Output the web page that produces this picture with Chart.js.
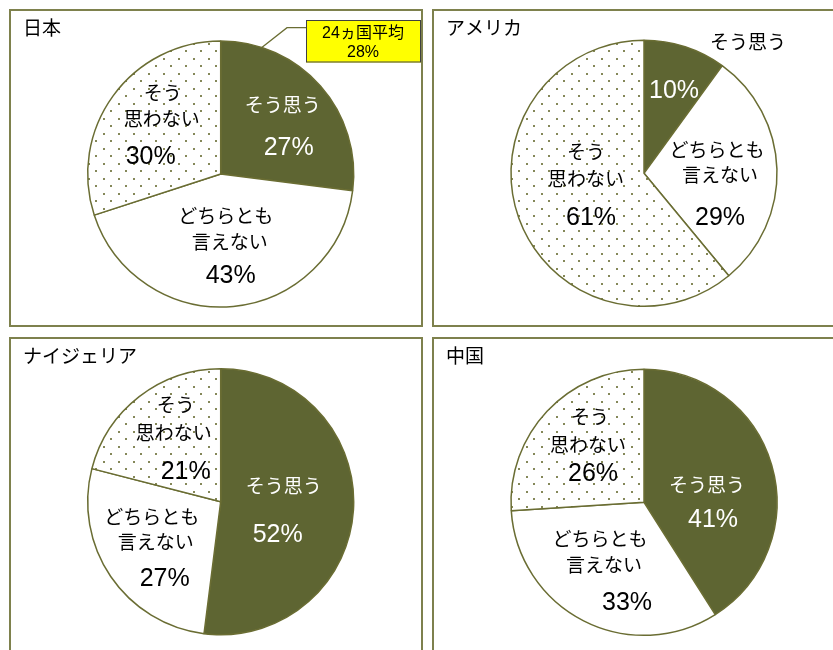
<!DOCTYPE html>
<html lang="ja">
<head>
<meta charset="utf-8">
<script src="https://cdn.jsdelivr.net/npm/chart.js@4.4.1/dist/chart.umd.min.js"></script>
<style>
  html, body { margin: 0; padding: 0; background: #fff; overflow: hidden; width: 833px; height: 650px; }
  .panel { position: absolute; border: 2px solid #7e814d; background: #fff; }
  .panel canvas { position: absolute; left: 0; top: 0; }
</style>
</head>
<body>
<div class="panel" style="left:9px;top:9px;width:410px;height:314px"><canvas id="c0" width="410" height="314"></canvas></div>
<div class="panel" style="left:432px;top:9px;width:420px;height:314px"><canvas id="c1" width="420" height="314"></canvas></div>
<div class="panel" style="left:9px;top:337px;width:410px;height:320px"><canvas id="c2" width="410" height="320"></canvas></div>
<div class="panel" style="left:432px;top:337px;width:420px;height:320px"><canvas id="c3" width="420" height="320"></canvas></div>
<script>
const categories = ['そう思う', 'どちらとも言えない', 'そう思わない'];
const categoryLines = [['そう思う'], ['どちらとも', '言えない'], ['そう', '思わない']];
const countries = ['日本', 'アメリカ', 'ナイジェリア', '中国'];
const japanValues = [27, 43, 30];
const usaValues = [10, 29, 61];
const nigeriaValues = [52, 27, 21];
const chinaValues = [41, 33, 26];
const averageLabel = '24ヵ国平均';
const averageValue = 28;

const seriesByCountry = [japanValues, usaValues, nigeriaValues, chinaValues];

// pie centre inside each canvas, radius in px
const pieCentres = [[209.7, 163], [210, 162.3], [209.7, 162.7], [210, 163.3]];
const R = 133;
const BW = 1.5;

// label spots from the pie centre (px at R): name lines..., then percent
const labelSpots = [
  [[[62, -67], [68, -26]], [[5, 44], [9, 70], [10, 102]], [[-58, -79], [-59, -53], [-70, -17]]],
  [[[104, -130], [30, -82]], [[73, -22], [76, 3], [76, 45]], [[-58, -20], [-58, 7], [-53, 45]]],
  [[[63, -14], [57, 33]], [[-69, 17], [-65, 42], [-56, 77]], [[-45, -95], [-47, -67], [-35, -30]]],
  [[[63, -16], [69, 18]], [[-44, 38], [-40, 64], [-17, 101]], [[-54, -84], [-56, -56], [-51, -28]]],
];

const OLIVE = '#5e6532';
const EDGE = '#6a6d33';
const JP = '"Liberation Sans", "Noto Sans CJK JP", sans-serif';

function dotPattern() {
  const c = document.createElement('canvas');
  c.width = 15; c.height = 15;
  const g = c.getContext('2d');
  g.fillStyle = '#fff';
  g.fillRect(0, 0, 15, 15);
  g.fillStyle = '#858859';
  g.fillRect(2, 2, 2, 2);
  g.fillRect(9, 9, 2, 2);
  return g.createPattern(c, 'repeat');
}

const pieText = {
  id: 'pieText',
  afterDatasetsDraw(chart, args, opts) {
    const ctx = chart.ctx;
    const arcs = chart.getDatasetMeta(0).data;
    const { x: cx, y: cy, outerRadius } = arcs[0];
    const k = outerRadius / R;
    const values = chart.data.datasets[0].data;
    ctx.save();
    ctx.textAlign = 'center';
    ctx.textBaseline = 'middle';
    labelSpots[opts.index].forEach((spots, i) => {
      spots.forEach((p, j) => {
        const x = cx + p[0] * k, y = cy + p[1] * k;
        const isPct = j === spots.length - 1;
        ctx.fillStyle = arcs[0].inRange(x, y) ? '#fff' : '#000';
        ctx.font = isPct ? '25px ' + JP : '19px ' + JP;
        ctx.fillText(isPct ? values[i] + '%' : categoryLines[i][j], x, y);
      });
    });
    // panel title
    ctx.textAlign = 'left';
    ctx.fillStyle = '#000';
    ctx.font = '19px ' + JP;
    ctx.fillText(countries[opts.index], 12, 19);

    if (opts.callout) {
      const a = 0.05 * Math.PI * 2;
      const px = cx + outerRadius * Math.sin(a), py = cy - outerRadius * Math.cos(a);
      const bx = 295, by = 9, bw = 115, bh = 42.5;
      ctx.strokeStyle = EDGE;
      ctx.lineWidth = 1.3;
      ctx.beginPath();
      ctx.moveTo(bx, by + 7.7);
      ctx.lineTo(bx - 19, by + 7.7);
      ctx.lineTo(px, py);
      ctx.stroke();
      ctx.fillStyle = '#ffff00';
      ctx.fillRect(bx, by, bw, bh);
      ctx.strokeStyle = '#404040';
      ctx.lineWidth = 1;
      ctx.strokeRect(bx + 0.5, by + 0.5, bw - 1, bh - 1);
      ctx.fillStyle = '#000';
      ctx.textAlign = 'center';
      ctx.font = '16px ' + JP;
      ctx.fillText(averageLabel, bx + 57, by + 13.5);
      ctx.fillText(averageValue + '%', bx + 57, by + 32.5);
    }
    ctx.restore();
  }
};

const pattern = dotPattern();

function createPie(index) {
  const canvas = document.getElementById('c' + index);
  const [cx, cy] = pieCentres[index];
  const size = 2 * R + BW;
  return new Chart(canvas, {
    type: 'pie',
    data: {
      labels: categories,
      datasets: [{
        data: seriesByCountry[index],
        backgroundColor: [OLIVE, '#ffffff', pattern],
        borderColor: EDGE,
        borderWidth: BW,
        hoverBorderWidth: BW,
      }],
    },
    options: {
      responsive: false,
      animation: false,
      events: [],
      layout: {
        padding: {
          left: cx - size / 2,
          top: cy - size / 2,
          right: canvas.width - cx - size / 2,
          bottom: canvas.height - cy - size / 2,
        },
      },
      plugins: {
        legend: { display: false },
        tooltip: { enabled: false },
        pieText: { index, callout: index === 0 },
      },
    },
    plugins: [pieText],
  });
}

countries.forEach((c, i) => createPie(i));
</script>
</body>
</html>
